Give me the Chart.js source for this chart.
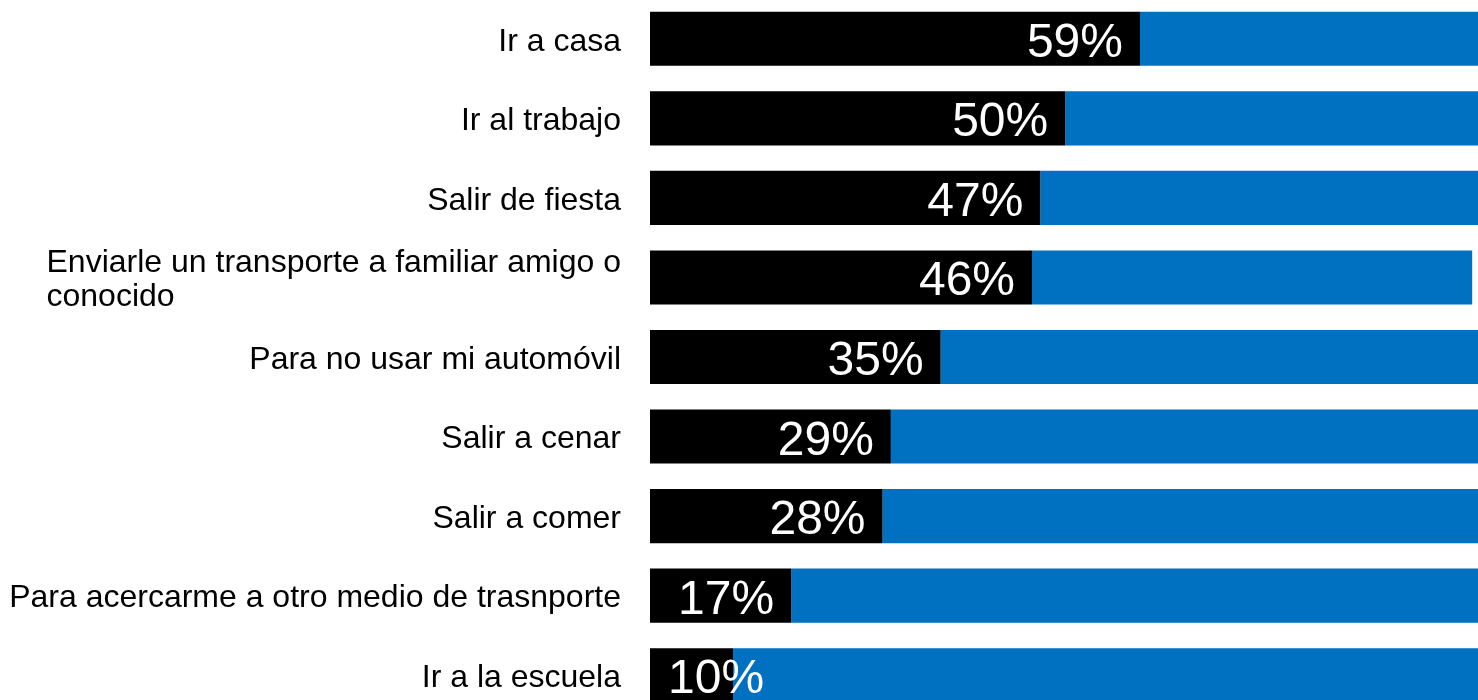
<!DOCTYPE html>
<html>
<head>
<meta charset="utf-8">
<script src="https://cdn.jsdelivr.net/npm/chart.js@4"></script>
<style>
    html, body { margin: 0; padding: 0; background: #fff; overflow: hidden; }
    #chart { position: absolute; left: 0; top: -1px; }
</style>
</head>
<body>
<canvas id="chart" width="1478" height="716"></canvas>
<script>
// Motivos de uso (porcentaje) y el resto hasta el total
const categories = [
    'Ir a casa',
    'Ir al trabajo',
    'Salir de fiesta',
    ['Enviarle un transporte a familiar amigo o', 'conocido'],
    'Para no usar mi automóvil',
    'Salir a cenar',
    'Salir a comer',
    'Para acercarme a otro medio de trasnporte',
    'Ir a la escuela'
];
const usoValues = [59, 50, 47, 46, 35, 29, 28, 17, 10];
const restoValues = [41, 50, 53, 53, 65, 71, 72, 83, 90];

const FONT = '"Liberation Sans", Arial, sans-serif';

/**
 * Draws the category labels (right aligned block, lines left aligned)
 * and the white percentage labels inside the black bars.
 */
const labelsPlugin = {
    id: 'labels',
    afterDatasetsDraw(chart) {
        const ctx = chart.ctx;
        const meta = chart.getDatasetMeta(0);
        const left = chart.chartArea.left;

        ctx.save();
        // category labels
        ctx.fillStyle = '#000';
        ctx.font = '32px ' + FONT;
        ctx.textBaseline = 'middle';
        ctx.textAlign = 'left';
        categories.forEach((cat, i) => {
            const lines = Array.isArray(cat) ? cat : [cat];
            const y = meta.data[i].y + 3;
            const width = Math.max(...lines.map(l => ctx.measureText(l).width));
            const x = left - 29 - width;
            const lineHeight = 34;
            lines.forEach((line, j) => {
                const ly = y + (j - (lines.length - 1) / 2) * lineHeight;
                ctx.fillText(line, x, ly);
            });
        });

        // value labels
        ctx.fillStyle = '#fff';
        ctx.font = '48px ' + FONT;
        ctx.textAlign = 'right';
        ctx.textBaseline = 'alphabetic';
        meta.data.forEach((bar, i) => {
            const text = usoValues[i] + '%';
            const w = ctx.measureText(text).width;
            const x = Math.max(bar.x - 17, left + 18 + w);
            ctx.fillText(text, x, bar.y + 18);
        });
        ctx.restore();
    }
};

new Chart(document.getElementById('chart'), {
    type: 'bar',
    data: {
        labels: categories,
        datasets: [
            {
                label: 'Uso',
                data: usoValues,
                backgroundColor: '#000000',
                borderWidth: 0
            },
            {
                label: 'Resto',
                data: restoValues,
                backgroundColor: '#0070C0',
                borderWidth: 0
            }
        ]
    },
    options: {
        indexAxis: 'y',
        responsive: false,
        animation: false,
        layout: { padding: { left: 650, right: 0, top: 0, bottom: 0 } },
        plugins: {
            legend: { display: false },
            tooltip: { enabled: false }
        },
        datasets: {
            bar: {
                categoryPercentage: 1,
                barPercentage: 0.68
            }
        },
        scales: {
            x: {
                stacked: true,
                display: false,
                min: 0,
                max: 99.7
            },
            y: {
                stacked: true,
                display: false
            }
        }
    },
    plugins: [labelsPlugin]
});
</script>
</body>
</html>
